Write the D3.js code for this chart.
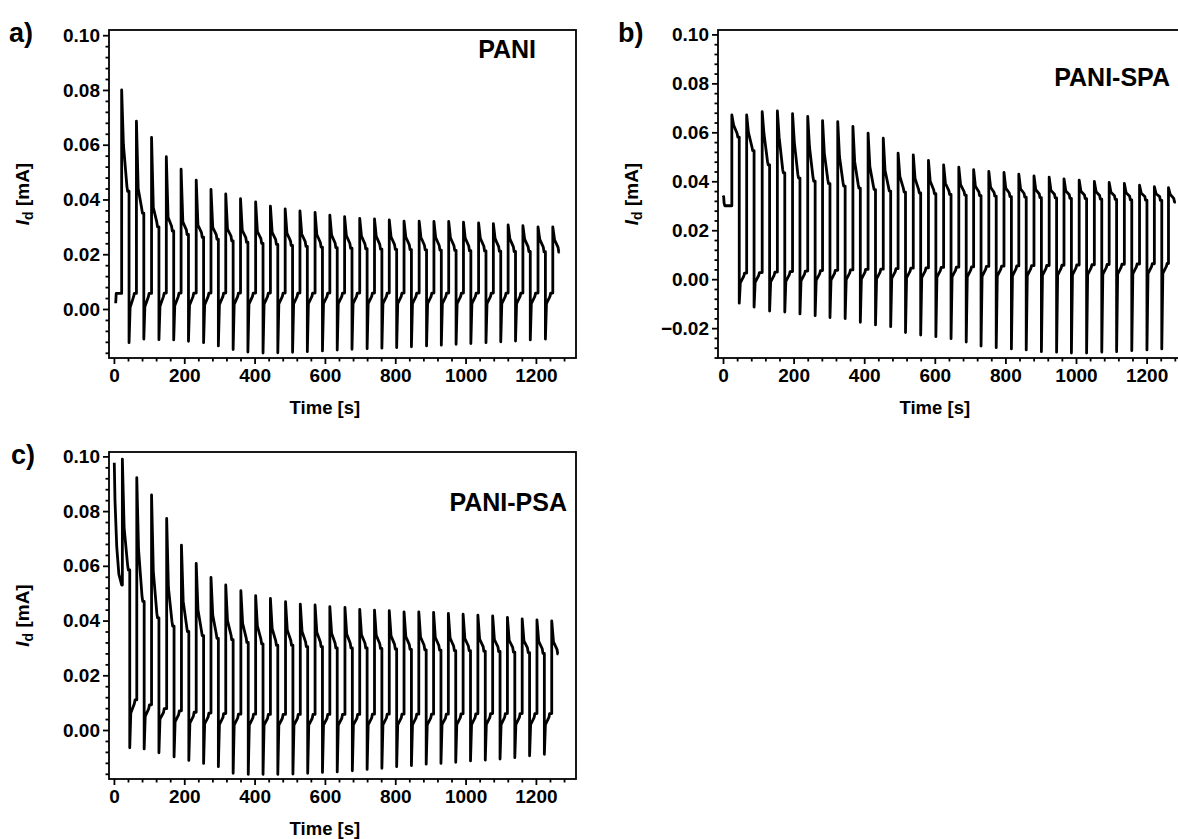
<!DOCTYPE html>
<html><head><meta charset="utf-8">
<script src="https://cdn.jsdelivr.net/npm/d3@7"></script>
<style>
html,body{margin:0;padding:0;background:#fff;}
svg{display:block;}
</style></head>
<body>
<svg id="chart" width="1178" height="839"></svg>
<script>
// ---------------- DATA ----------------
// Panel a: PANI
const leadA_t = [5, 6.5, 22];
const leadA_v = [0.0021, 0.0057, 0.0057];
const tUpA = [22, 64, 107, 149, 191, 234, 276, 318, 360, 403, 445, 487, 529, 572, 614, 656, 699, 741, 783, 825, 868, 910, 952, 994, 1037, 1079, 1121, 1163, 1206, 1248];
const peakA = [0.0800, 0.0686, 0.0627, 0.0556, 0.0511, 0.0471, 0.0437, 0.0420, 0.0403, 0.0391, 0.0376, 0.0366, 0.0358, 0.0353, 0.0343, 0.0337, 0.0331, 0.0329, 0.0325, 0.0321, 0.0321, 0.0320, 0.0320, 0.0317, 0.0314, 0.0312, 0.0307, 0.0304, 0.0300, 0.0300];
const kneeA = [0.0600, 0.0440, 0.0370, 0.0335, 0.0318, 0.0306, 0.0298, 0.0292, 0.0287, 0.0283, 0.0280, 0.0277, 0.0274, 0.0272, 0.0270, 0.0268, 0.0266, 0.0265, 0.0264, 0.0263, 0.0262, 0.0261, 0.0260, 0.0259, 0.0258, 0.0257, 0.0256, 0.0255, 0.0254, 0.0253];
const platA = [0.0430, 0.0350, 0.0300, 0.0285, 0.0272, 0.0262, 0.0255, 0.0249, 0.0244, 0.0240, 0.0236, 0.0232, 0.0229, 0.0226, 0.0224, 0.0222, 0.0220, 0.0219, 0.0218, 0.0217, 0.0216, 0.0215, 0.0214, 0.0213, 0.0212, 0.0211, 0.0210, 0.0210, 0.0209, 0.0208];
const troughA = [-0.0123, -0.0110, -0.0112, -0.0113, -0.0118, -0.0123, -0.0135, -0.0148, -0.0157, -0.0161, -0.0160, -0.0158, -0.0156, -0.0153, -0.0150, -0.0147, -0.0145, -0.0143, -0.0141, -0.0138, -0.0135, -0.0132, -0.0129, -0.0126, -0.0123, -0.0120, -0.0117, -0.0113, -0.0110];
const rKneeA = [0.0005, 0.0008, 0.0010, 0.0012, 0.0014, 0.0015, 0.0016, 0.0017, 0.0018, 0.0018, 0.0019, 0.0019, 0.0020, 0.0020, 0.0020, 0.0020, 0.0020, 0.0020, 0.0020, 0.0020, 0.0020, 0.0020, 0.0020, 0.0020, 0.0020, 0.0020, 0.0020, 0.0020, 0.0020];
const rPlatA = [0.0057, 0.0057, 0.0058, 0.0058, 0.0058, 0.0058, 0.0058, 0.0058, 0.0058, 0.0058, 0.0058, 0.0058, 0.0058, 0.0058, 0.0058, 0.0058, 0.0058, 0.0058, 0.0058, 0.0058, 0.0058, 0.0058, 0.0058, 0.0058, 0.0058, 0.0058, 0.0058, 0.0058, 0.0058];

// Panel b: PANI-SPA
const leadB_t = [0.3, 2, 3, 5, 24];
const leadB_v = [0.0342, 0.0336, 0.0312, 0.0300, 0.0300];
const tUpB = [25, 67, 111, 154, 197, 240, 282, 325, 368, 411, 454, 496, 539, 582, 625, 668, 710, 753, 796, 838, 881, 924, 966, 1009, 1052, 1094, 1137, 1180, 1222, 1262];
const peakB = [0.0671, 0.0671, 0.0684, 0.0688, 0.0676, 0.0665, 0.0648, 0.0644, 0.0624, 0.0597, 0.0576, 0.0515, 0.0508, 0.0485, 0.0467, 0.0458, 0.0447, 0.0440, 0.0436, 0.0429, 0.0422, 0.0417, 0.0410, 0.0405, 0.0399, 0.0395, 0.0391, 0.0384, 0.0378, 0.0374];
const kneeB = [0.0630, 0.0600, 0.0595, 0.0580, 0.0560, 0.0540, 0.0515, 0.0500, 0.0480, 0.0460, 0.0445, 0.0420, 0.0412, 0.0400, 0.0392, 0.0386, 0.0380, 0.0376, 0.0372, 0.0369, 0.0366, 0.0363, 0.0361, 0.0359, 0.0357, 0.0355, 0.0353, 0.0351, 0.0349, 0.0346];
const platB = [0.0580, 0.0525, 0.0467, 0.0434, 0.0413, 0.0400, 0.0390, 0.0380, 0.0372, 0.0366, 0.0360, 0.0356, 0.0352, 0.0349, 0.0346, 0.0343, 0.0341, 0.0339, 0.0337, 0.0335, 0.0333, 0.0332, 0.0330, 0.0329, 0.0327, 0.0326, 0.0324, 0.0323, 0.0322, 0.0315];
const troughB = [-0.0098, -0.0114, -0.0130, -0.0134, -0.0142, -0.0149, -0.0157, -0.0161, -0.0176, -0.0187, -0.0194, -0.0218, -0.0228, -0.0235, -0.0243, -0.0257, -0.0273, -0.0280, -0.0285, -0.0289, -0.0296, -0.0298, -0.0302, -0.0302, -0.0298, -0.0296, -0.0292, -0.0289, -0.0285];
const rKneeB = [-0.0015, -0.0013, -0.0011, -0.0009, -0.0007, -0.0005, -0.0004, -0.0002, 0.0000, 0.0001, 0.0003, 0.0005, 0.0006, 0.0008, 0.0009, 0.0010, 0.0012, 0.0013, 0.0014, 0.0015, 0.0016, 0.0017, 0.0018, 0.0019, 0.0020, 0.0021, 0.0022, 0.0023, 0.0024];
const rPlatB = [0.0025, 0.0027, 0.0029, 0.0031, 0.0033, 0.0035, 0.0036, 0.0038, 0.0040, 0.0041, 0.0043, 0.0045, 0.0046, 0.0048, 0.0049, 0.0050, 0.0052, 0.0053, 0.0054, 0.0055, 0.0056, 0.0057, 0.0058, 0.0059, 0.0060, 0.0061, 0.0062, 0.0063, 0.0064];

// Panel c: PANI-PSA
const leadC_t = [1, 3, 8, 14, 22];
const leadC_v = [0.0977, 0.0840, 0.0670, 0.0570, 0.0530];
const tUpC = [24, 65, 107, 150, 192, 234, 276, 318, 361, 403, 445, 488, 530, 572, 614, 657, 699, 741, 783, 825, 867, 909, 951, 993, 1035, 1077, 1119, 1161, 1203, 1245];
const peakC = [0.0990, 0.0922, 0.0859, 0.0773, 0.0676, 0.0609, 0.0558, 0.0530, 0.0509, 0.0491, 0.0481, 0.0469, 0.0460, 0.0457, 0.0451, 0.0448, 0.0441, 0.0438, 0.0436, 0.0432, 0.0432, 0.0430, 0.0426, 0.0423, 0.0420, 0.0417, 0.0412, 0.0406, 0.0402, 0.0399];
const kneeC = [0.0740, 0.0660, 0.0580, 0.0520, 0.0470, 0.0440, 0.0420, 0.0400, 0.0390, 0.0380, 0.0370, 0.0365, 0.0360, 0.0357, 0.0354, 0.0351, 0.0348, 0.0346, 0.0344, 0.0342, 0.0340, 0.0338, 0.0336, 0.0334, 0.0332, 0.0330, 0.0328, 0.0326, 0.0324, 0.0322];
const platC = [0.0585, 0.0470, 0.0410, 0.0380, 0.0360, 0.0345, 0.0335, 0.0330, 0.0320, 0.0315, 0.0310, 0.0310, 0.0305, 0.0305, 0.0300, 0.0300, 0.0300, 0.0298, 0.0296, 0.0295, 0.0293, 0.0292, 0.0290, 0.0290, 0.0288, 0.0287, 0.0285, 0.0283, 0.0280, 0.0278];
const troughC = [-0.0065, -0.0069, -0.0083, -0.0098, -0.0111, -0.0122, -0.0134, -0.0158, -0.0162, -0.0162, -0.0162, -0.0161, -0.0158, -0.0155, -0.0153, -0.0149, -0.0144, -0.0140, -0.0134, -0.0130, -0.0125, -0.0122, -0.0118, -0.0113, -0.0110, -0.0106, -0.0101, -0.0094, -0.0089];
const rKneeC = [0.0062, 0.0050, 0.0040, 0.0030, 0.0025, 0.0022, 0.0020, 0.0018, 0.0018, 0.0018, 0.0018, 0.0018, 0.0018, 0.0018, 0.0018, 0.0019, 0.0019, 0.0019, 0.0019, 0.0019, 0.0019, 0.0020, 0.0020, 0.0020, 0.0020, 0.0020, 0.0020, 0.0020, 0.0020];
const rPlatC = [0.0110, 0.0092, 0.0078, 0.0070, 0.0065, 0.0062, 0.0060, 0.0058, 0.0058, 0.0057, 0.0057, 0.0057, 0.0057, 0.0057, 0.0057, 0.0057, 0.0058, 0.0058, 0.0058, 0.0058, 0.0058, 0.0058, 0.0059, 0.0059, 0.0060, 0.0060, 0.0060, 0.0060, 0.0060];

// Small steps at the shoulder kinks (mA)
const stepA = [0.0017, 0.0012];
const stepB = [0.0015, 0.0012];
const stepC = [0.0017, 0.0014];

// Tick values
const xMajor = [0, 200, 400, 600, 800, 1000, 1200];
const yMajorAC = [0.00, 0.02, 0.04, 0.06, 0.08, 0.10];
const yMajorB = [-0.02, 0.00, 0.02, 0.04, 0.06, 0.08, 0.10];
const panelLetters = ["a)", "b)", "c)"];
const panelNames = ["PANI", "PANI-SPA", "PANI-PSA"];

// ---------------- BUILD ----------------
const FONT = "'Liberation Sans', Arial, Helvetica, sans-serif";
const svg = d3.select("#chart");

function buildSeries(leadT, leadV, tUp, peak, knee, plat, trough, rKnee, rPlat, step, endLen) {
  const pts = leadT.map((t, i) => [t, leadV[i]]);
  let level = leadV[leadV.length - 1];
  tUp.forEach((tu, i) => {
    pts.push([tu, level]);
    pts.push([tu, peak[i]]);
    pts.push([tu + 5, knee[i]]);
    pts.push([tu + 15, plat[i] + step[0]]);
    pts.push([tu + 17, plat[i]]);
    if (i < trough.length) {
      const td = tu + 21;
      pts.push([td, plat[i]]);
      pts.push([td, trough[i]]);
      pts.push([td + 3, rKnee[i]]);
      pts.push([td + 13, rPlat[i] - step[1]]);
      pts.push([td + 15, rPlat[i]]);
      level = rPlat[i];
    } else {
      pts.push([tu + endLen, plat[i]]);
    }
  });
  return pts;
}

const panels = [
  { x0: 109, x1: 576, xd: [-14, 1314], yTop: 30, yBot: 358, yd: [-0.0179, 0.1019], yMajor: yMajorAC,
    data: buildSeries(leadA_t, leadA_v, tUpA, peakA, kneeA, platA, troughA, rKneeA, rPlatA, stepA, 20),
    letter: panelLetters[0], lx: 9, ly: 42, name: panelNames[0], nx: 536, ny: 58 },
  { x0: 718, x1: 1188, xd: [-14.2, 1317.3], yTop: 30, yBot: 358, yd: [-0.0322, 0.1018], yMajor: yMajorB,
    data: buildSeries(leadB_t, leadB_v, tUpB, peakB, kneeB, platB, troughB, rKneeB, rPlatB, stepB, 21),
    letter: panelLetters[1], lx: 618, ly: 42, name: panelNames[1], nx: 1170, ny: 86 },
  { x0: 109, x1: 576, xd: [-14, 1314], yTop: 452, yBot: 779, yd: [-0.0179, 0.1016], yMajor: yMajorAC,
    data: buildSeries(leadC_t, leadC_v, tUpC, peakC, kneeC, platC, troughC, rKneeC, rPlatC, stepC, 19),
    letter: panelLetters[2], lx: 11, ly: 464, name: panelNames[2], nx: 567, ny: 511 }
];

function rangeStep(a, b, s) {
  const out = [];
  const n0 = Math.ceil(a / s - 1e-9), n1 = Math.floor(b / s + 1e-9);
  for (let n = n0; n <= n1; n++) out.push(+(n * s).toFixed(6));
  return out;
}

panels.forEach(p => {
  const x = d3.scaleLinear().domain(p.xd).range([p.x0, p.x1]);
  const y = d3.scaleLinear().domain(p.yd).range([p.yBot, p.yTop]);
  const g = svg.append("g");

  // data line
  const line = d3.line().x(d => x(d[0])).y(d => y(d[1]));
  g.append("path").datum(p.data)
    .attr("d", line).attr("fill", "none").attr("stroke", "#000")
    .attr("stroke-width", 2.8).attr("stroke-linejoin", "round").attr("stroke-linecap", "butt");

  // frame
  g.append("rect").attr("x", p.x0).attr("y", p.yTop)
    .attr("width", p.x1 - p.x0).attr("height", p.yBot - p.yTop)
    .attr("fill", "none").attr("stroke", "#000").attr("stroke-width", 1.8);

  // minor ticks
  const xMinor = rangeStep(Math.max(p.xd[0], 0), p.xd[1], 40).filter(v => xMajor.indexOf(v) < 0);
  const yMinor = rangeStep(p.yd[0], p.yd[1], 0.004).filter(v => !p.yMajor.some(m => Math.abs(m - v) < 1e-6));

  const styleAxis = sel => {
    sel.select(".domain").remove();
    sel.selectAll(".tick line").attr("stroke", "#000").attr("stroke-width", 1.8);
    sel.selectAll(".tick text").attr("fill", "#000")
      .attr("font-family", FONT).attr("font-weight", "bold").attr("font-size", 19);
  };

  g.append("g").attr("transform", `translate(0,${p.yBot})`)
    .call(d3.axisBottom(x).tickValues(xMinor).tickSize(3.5).tickFormat(""))
    .call(styleAxis);
  g.append("g").attr("transform", `translate(0,${p.yBot})`)
    .call(d3.axisBottom(x).tickValues(xMajor).tickSize(6).tickPadding(5).tickFormat(d3.format("d")))
    .call(styleAxis);
  g.append("g").attr("transform", `translate(${p.x0},0)`)
    .call(d3.axisLeft(y).tickValues(yMinor).tickSize(3.5).tickFormat(""))
    .call(styleAxis);
  g.append("g").attr("transform", `translate(${p.x0},0)`)
    .call(d3.axisLeft(y).tickValues(p.yMajor).tickSize(6).tickPadding(3).tickFormat(d3.format(".2f")))
    .call(styleAxis);

  // x title
  g.append("text").attr("x", x(600)).attr("y", p.yBot + 56)
    .attr("text-anchor", "middle").attr("font-family", FONT).attr("font-weight", "bold")
    .attr("font-size", 18.5).text("Time [s]");

  // y title
  const yt = g.append("text")
    .attr("transform", `translate(${p.x0 - 80},${(p.yTop + p.yBot) / 2}) rotate(-90)`)
    .attr("text-anchor", "middle").attr("font-family", FONT).attr("font-weight", "bold")
    .attr("font-size", 19);
  yt.append("tspan").attr("font-style", "italic").text("I");
  yt.append("tspan").attr("font-size", 14).attr("dy", 4).text("d");
  yt.append("tspan").attr("dy", -4).text(" [mA]");

  // panel letter
  svg.append("text").attr("x", p.lx).attr("y", p.ly)
    .attr("font-family", FONT).attr("font-weight", "bold").attr("font-size", 27).text(p.letter);

  // sample name
  svg.append("text").attr("x", p.nx).attr("y", p.ny).attr("text-anchor", "end")
    .attr("font-family", FONT).attr("font-weight", "bold").attr("font-size", 25).text(p.name);
});
</script>
</body></html>
